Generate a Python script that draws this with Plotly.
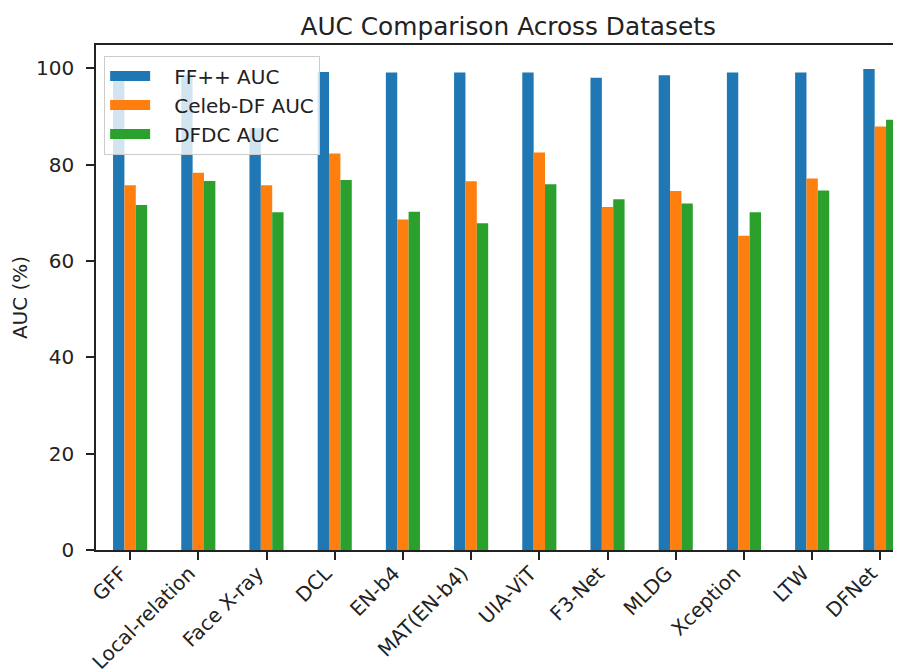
import plotly.graph_objects as go

methods = ["GFF", "Local-relation", "Face X-ray", "DCL", "EN-b4", "MAT(EN-b4)",
           "UIA-ViT", "F3-Net", "MLDG", "Xception", "LTW", "DFNet"]
ffpp_auc = [97.6, 98.5, 87.5, 99.2, 99.1, 99.1, 99.1, 98.0, 98.5, 99.1, 99.1, 99.8]
celeb_auc = [75.7, 78.3, 75.7, 82.3, 68.6, 76.5, 82.5, 71.2, 74.5, 65.2, 77.1, 87.9]
dfdc_auc = [71.6, 76.6, 70.1, 76.8, 70.2, 67.8, 75.9, 72.8, 71.9, 70.1, 74.6, 89.3]

series_names = ["FF++ AUC", "Celeb-DF AUC", "DFDC AUC"]
series_vals = [ffpp_auc, celeb_auc, dfdc_auc]
colors = ["#1f77b4", "#ff7f0e", "#2ca02c"]

FONT = "DejaVu Sans"
INK = "#222222"
fig = go.Figure()
for name, vals, c in zip(series_names, series_vals, colors):
    fig.add_trace(go.Bar(x=methods, y=vals, name=name, marker_color=c,
                         marker_line_width=0, showlegend=False))
# legend proxies (wide rectangles like matplotlib patches)
for i, (name, c) in enumerate(zip(series_names, colors)):
    fig.add_trace(go.Scatter(x=[methods[0]], y=[None], mode="lines",
                             name="\u00a0\u00a0\u00a0" + name,
                             line=dict(color=c, width=13), legendgroup=f"g{i}",
                             showlegend=True, hoverinfo="skip"))

# the page has an 8px body margin; margins below compensate for it
fig.update_layout(
    width=901, height=671,
    margin=dict(l=88, r=0, t=37, b=129, pad=0, autoexpand=False),
    paper_bgcolor="white", plot_bgcolor="white",
    font=dict(family=FONT, size=20, color=INK),
    barmode="group", bargap=0.5, bargroupgap=0,
    title=dict(text="AUC Comparison Across Datasets", x=0.507, xref="paper",
               xanchor="center", y=1 - 18 / 671, yref="container", yanchor="middle",
               font=dict(family=FONT, size=24.8, color=INK)),
    legend=dict(x=0.01, y=0.979, xanchor="left", yanchor="top",
                bgcolor="rgba(255,255,255,0.8)", bordercolor="#cccccc", borderwidth=1,
                font=dict(family=FONT, size=20, color=INK),
                tracegroupgap=5, itemwidth=40, traceorder="normal"),
    showlegend=True,
)
fig.update_xaxes(range=[-0.5, 11.42], showline=True, linecolor=INK, linewidth=1.6,
                 mirror=True, ticks="outside", ticklen=8, tickwidth=1.6, tickcolor=INK,
                 tickangle=-45, ticklabelstandoff=-15, showgrid=False, zeroline=False,
                 tickmode="array", tickvals=methods,
                 ticktext=[m + "\u00a0\u00a0" for m in methods],
                 automargin=False)
fig.update_yaxes(range=[0, 104.8], showline=True, linecolor=INK, linewidth=1.6,
                 ticks="outside", ticklen=8, tickwidth=1.6, tickcolor=INK,
                 ticklabelstandoff=8, automargin=False,
                 tickvals=[0, 20, 40, 60, 80, 100], showgrid=False, zeroline=False,
                 title=dict(text="AUC (%)", standoff=14, font=dict(size=20)))

fig.write_html("out.html")
